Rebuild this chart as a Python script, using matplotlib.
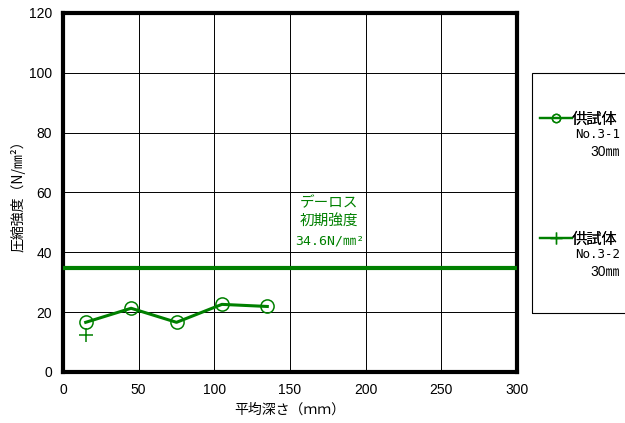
import matplotlib.pyplot as plt
from matplotlib.lines import Line2D
from matplotlib.patches import Rectangle

plt.rcParams['font.family'] = ['Noto Sans CJK JP', 'DejaVu Sans']

# Data
depth_1 = [15, 45, 75, 105, 135]
strength_1 = [16.6, 21.3, 16.6, 22.6, 21.9]
depth_2 = [15]
strength_2 = [12.4]
initial_strength = 34.6

green = '#008000'
mono = ['DejaVu Sans Mono', 'Noto Sans CJK JP']

fig = plt.figure(figsize=(6.25, 4.23), dpi=100)
ax = fig.add_axes([0.1008, 0.1206, 0.7264, 0.8487])

ax.plot(depth_1, strength_1, color=green, lw=2.2, marker='o', ms=9.5,
        mfc='none', mec=green, mew=1.1)
ax.plot(depth_2, strength_2, color=green, lw=2.2, marker='+', ms=10,
        mew=1.1, linestyle='-')
ax.axhline(initial_strength, color=green, lw=3, zorder=3)
ax.text(176, 56.5, 'デーロス', color=green, fontsize=10.5,
        ha='center', va='center')
ax.text(176, 50.2, '初期強度', color=green, fontsize=10.5,
        ha='center', va='center')
ax.text(176, 43.8, '34.6N/㎜²', color=green, fontsize=9.5,
        ha='center', va='center', family=mono)

ax.set_xlim(0, 300)
ax.set_ylim(0, 120)
ax.set_xticks(range(0, 301, 50))
ax.set_yticks(range(0, 121, 20))
ax.grid(True, color='black', lw=0.7)
ax.tick_params(length=0, labelsize=10, pad=8)
for lab in ax.get_xticklabels() + ax.get_yticklabels():
    lab.set_family(['Liberation Sans', 'DejaVu Sans'])
for s in ax.spines.values():
    s.set_linewidth(3)

ax.set_xlabel('平均深さ（ｍｍ）', fontsize=10, labelpad=4)
ax.set_ylabel('圧縮強度（N/㎜²）', fontsize=10, labelpad=2)

# legend box on the right
fig.add_artist(Rectangle((0.851, 0.26), 0.2, 0.567, transform=fig.transFigure,
                         fill=False, edgecolor='black', lw=0.8, clip_on=False))
h1 = Line2D([], [], color=green, lw=1.6, marker='o', ms=6, mfc='none',
            mec=green, mew=1.0)
h2 = Line2D([], [], color=green, lw=1.6, marker='+', ms=8, mew=1.0)
for h, yc, no in [(h1, 119, 'No.3-1'), (h2, 239, 'No.3-2')]:
    leg = fig.legend(handles=[h], labels=['供試体'], loc='center left',
                     bbox_to_anchor=(540 / 625, 1 - yc / 423), frameon=False,
                     fontsize=11, handlelength=2.1, handletextpad=0.0,
                     borderpad=0, borderaxespad=0)
    fig.add_artist(leg)
    fig.text(620 / 625, 1 - (yc + 15) / 423, no, fontsize=9, family=mono,
             ha='right', va='center')
    fig.text(620 / 625, 1 - (yc + 33) / 423, '30㎜', fontsize=10,
             family=['Liberation Sans', 'Noto Sans CJK JP'],
             ha='right', va='center')

fig.savefig('out.png', dpi=100)
